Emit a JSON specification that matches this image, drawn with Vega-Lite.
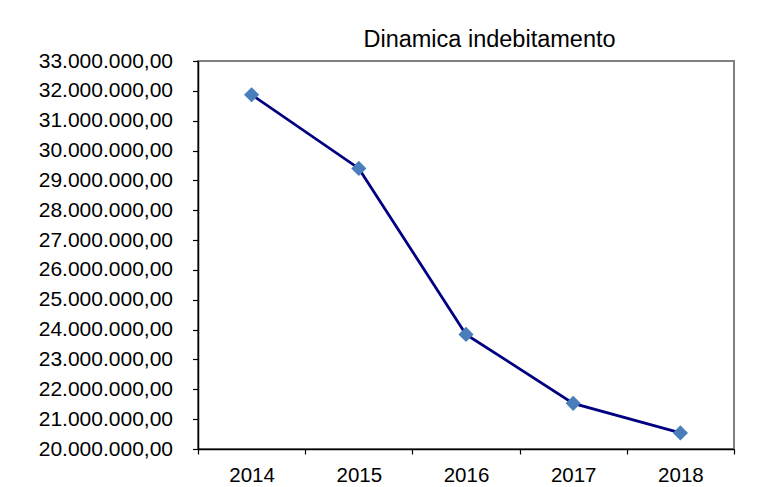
{
  "$schema": "https://vega.github.io/schema/vega-lite/v6.json",
  "width": 536,
  "height": 388,
  "autosize": "none",
  "padding": {"left": 198, "top": 61, "right": 29, "bottom": 38},
  "background": "white",
  "config": {
    "locale": {"number": {"decimal": ",", "thousands": ".", "grouping": [3], "currency": ["€", ""]}},
    "view": {"stroke": "#808080", "strokeWidth": 2},
    "font": "Liberation Sans"
  },
  "title": {
    "text": "Dinamica indebitamento",
    "fontSize": 23.5,
    "fontWeight": "normal",
    "font": "Liberation Sans",
    "color": "black",
    "baseline": "alphabetic",
    "offset": -20.6,
    "dx": 23.5,
    "anchor": "middle"
  },
  "data": {
    "values": [
      {"anno": "2014", "valore": 31870000},
      {"anno": "2015", "valore": 29400000},
      {"anno": "2016", "valore": 23840000},
      {"anno": "2017", "valore": 21530000},
      {"anno": "2018", "valore": 20540000}
    ]
  },
  "encoding": {
    "x": {
      "field": "anno",
      "type": "ordinal",
      "bandPosition": 0.5,
      "scale": {"type": "band", "paddingInner": 0, "paddingOuter": 0},
      "axis": {
        "title": null,
        "tickBand": "extent",
        "labelAngle": 0,
        "labelFontSize": 20.5,
        "labelFont": "Liberation Sans",
        "labelColor": "black",
        "labelPadding": 11,
        "tickSize": 5,
        "tickColor": "black",
        "tickWidth": 1.2,
        "domainColor": "black",
        "domainWidth": 1.5,
        "grid": false
      }
    },
    "y": {
      "field": "valore",
      "type": "quantitative",
      "scale": {"domain": [20000000, 33000000], "nice": false, "zero": false},
      "axis": {
        "title": null,
        "values": [20000000, 21000000, 22000000, 23000000, 24000000, 25000000, 26000000, 27000000, 28000000, 29000000, 30000000, 31000000, 32000000, 33000000],
        "format": ",.2f",
        "labelFontSize": 21,
        "labelFont": "Liberation Sans",
        "labelColor": "black",
        "labelPadding": 20,
        "labelOverlap": false,
        "labelFlush": false,
        "tickSize": 5.5,
        "tickColor": "black",
        "tickWidth": 1.2,
        "domainColor": "black",
        "domainWidth": 1.5,
        "grid": false
      }
    }
  },
  "layer": [
    {"mark": {"type": "line", "color": "#000080", "strokeWidth": 2.8}},
    {"mark": {"type": "point", "shape": "diamond", "filled": true, "size": 230, "color": "#4a7ebb", "opacity": 1}}
  ]
}
